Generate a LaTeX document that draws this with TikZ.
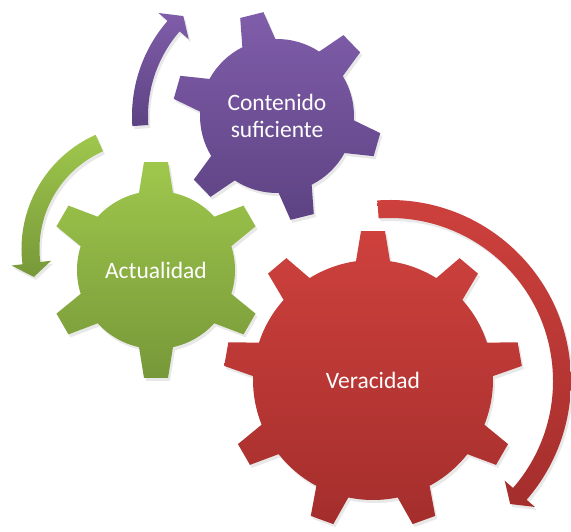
\documentclass[tikz,border=0pt]{standalone}
\usepackage{fontspec}
\setmainfont{Carlito}
\usepackage{xcolor}
\usetikzlibrary{shadows}

\definecolor{redtop}{HTML}{CE413D}
\definecolor{redbot}{HTML}{A42E2C}
\definecolor{greentop}{HTML}{9FC74C}
\definecolor{greenbot}{HTML}{779839}
\definecolor{purpletop}{HTML}{805DAA}
\definecolor{purplebot}{HTML}{5D4383}

\newcommand{\gearshape}[6]{%
  \begin{scope}[shift={#2}]
    \pgfmathsetmacro\gstep{360/#3}
    \pgfmathsetmacro\gdb{asin(17/#5)}
    \pgfmathsetmacro\gdt{atan(12/#6)}
    \pgfmathsetmacro\grt{10*sqrt((#6/10)^2+1.44)}
    \path[#1] (#4-\gdb:#5)
      \foreach \k [evaluate=\k as \ga using #4+(\k-1)*\gstep] in {1,...,#3}{
        -- (\ga-\gdt:\grt) -- (\ga+\gdt:\grt) -- (\ga+\gdb:#5)
        arc[start angle=\ga+\gdb, end angle=\ga+\gstep-\gdb, radius=#5]} -- cycle;
  \end{scope}}

\newcommand{\arcarrow}[7]{%
  \begin{scope}[shift={#2}]
    \pgfmathsetmacro\atip{#6+(#7)*14/#3*57.3}
    \path[#1] (#5:#3+#4) arc[start angle=#5, end angle=#6, radius=#3+#4]
      -- (#6:#3+20) -- (\atip:#3) -- (#6:#3-20) -- (#6:#3-#4)
      arc[start angle=#6, end angle=#5, radius=#3-#4] -- cycle;
  \end{scope}}

\begin{document}
\begin{tikzpicture}[x=1pt,y=1pt,
    shape3d/.style={drop shadow={opacity=0.18,shadow xshift=2pt,shadow yshift=-3pt}},
    redfill/.style={shape3d,top color=redtop,bottom color=redbot},
    greenfill/.style={shape3d,top color=greentop,bottom color=greenbot},
    purplefill/.style={shape3d,top color=purpletop,bottom color=purplebot},
    gearlabel/.style={text=white,align=center,font=\fontsize{23.5}{27}\selectfont}]
  \useasboundingbox (0,0) rectangle (571,531);
  \arcarrow{redfill}{(390,150)}{172}{9}{94}{-41}{-1}
  \arcarrow{greenfill}{(146.5,282)}{116}{9}{114}{187}{1}
  \arcarrow{purplefill}{(277,415)}{137}{8}{184}{139}{-1}
  \gearshape{redfill}{(373,151)}{9}{90}{120}{149}
  \gearshape{greenfill}{(156,261)}{6}{90}{79}{108}
  \gearshape{purplefill}{(277,415)}{6}{104}{77}{104}
  \node[gearlabel] (veracidad) at (373,151) {Veracidad};
  \node[gearlabel] (actualidad) at (156,261) {Actualidad};
  \node[gearlabel] (contenido) at (277,415) {Contenido\\suficiente};
\end{tikzpicture}
\end{document}
